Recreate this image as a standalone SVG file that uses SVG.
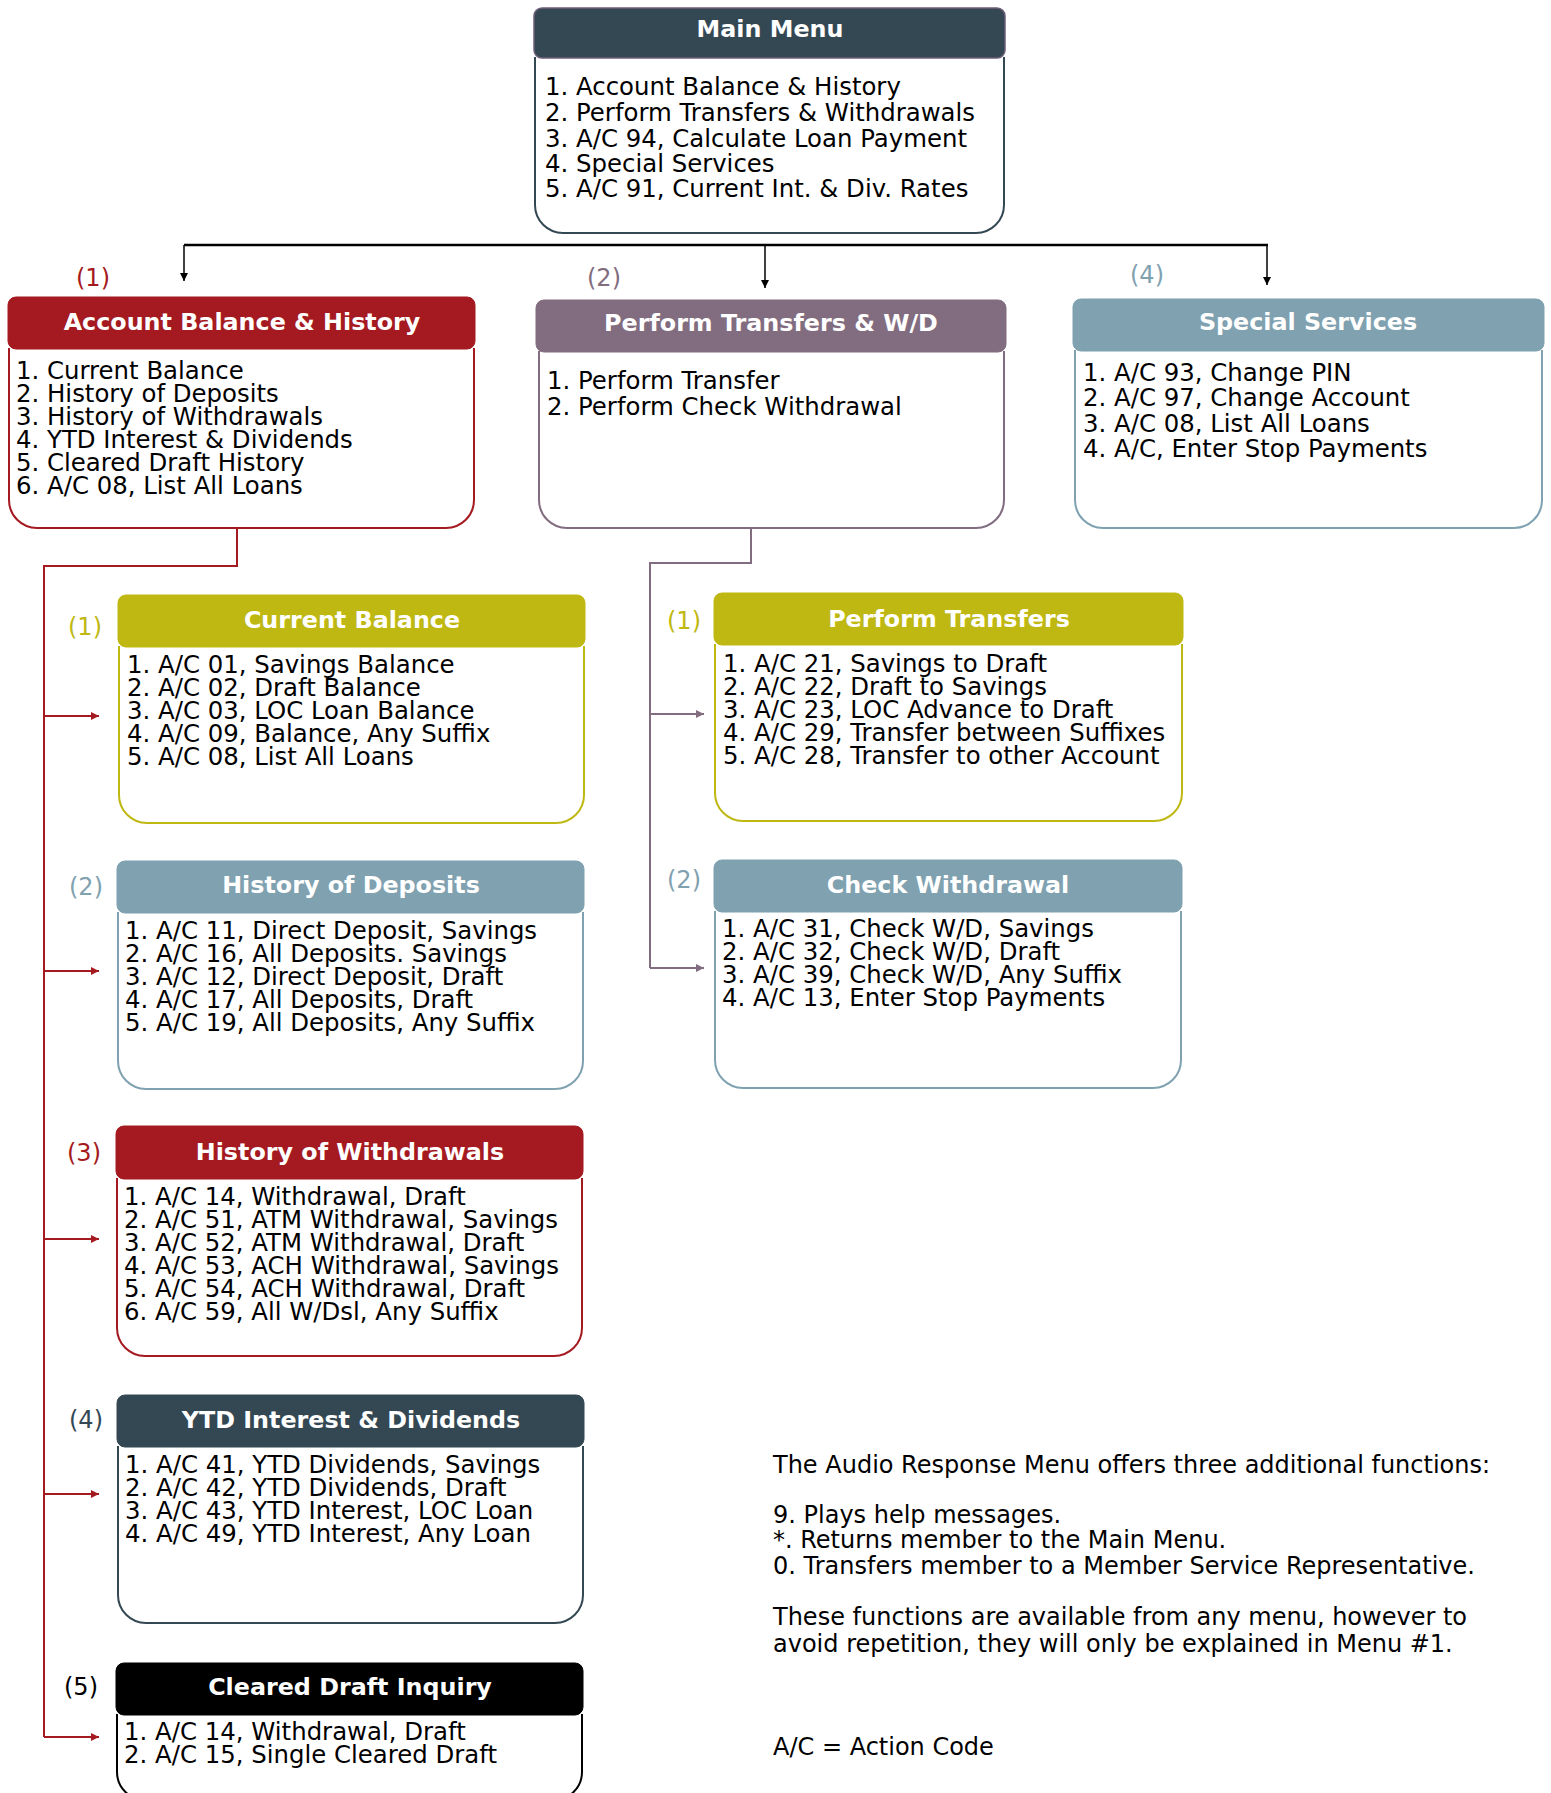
<svg xmlns="http://www.w3.org/2000/svg" width="1551" height="1793" viewBox="0 0 1551 1793">
<defs>
<style>
text{font-family:"DejaVu Sans","Verdana",sans-serif;}
.it{font-size:24.4px;fill:#000;}
.nt{font-size:24px;fill:#000;}
.tt{font-size:23.8px;font-weight:bold;fill:#fff;text-anchor:middle;}
.lb{font-size:24px;}
.body{fill:#fff;stroke-width:2;}
.red{fill:#A51A20;stroke:#A51A20;}
.mauve{fill:#826D80;stroke:#826D80;}
.steel{fill:#7FA1B0;stroke:#7FA1B0;}
.olive{fill:#BFB813;stroke:#BFB813;}
.slate{fill:#344854;stroke:#344854;}
.blk{fill:#000;stroke:#000;}
</style>
<marker id="ab" viewBox="0 0 10 10" refX="10" refY="5" markerWidth="8" markerHeight="8" markerUnits="userSpaceOnUse" orient="auto"><path d="M0,0 L10,5 L0,10 z" fill="#000"/></marker>
<marker id="ar" viewBox="0 0 10 10" refX="10" refY="5" markerWidth="10" markerHeight="8" markerUnits="userSpaceOnUse" orient="auto"><path d="M0,0 L10,5 L0,10 z" fill="#A51A20"/></marker>
<marker id="am" viewBox="0 0 10 10" refX="10" refY="5" markerWidth="10" markerHeight="8" markerUnits="userSpaceOnUse" orient="auto"><path d="M0,0 L10,5 L0,10 z" fill="#826D80"/></marker>
</defs>
<rect width="1551" height="1793" fill="#fff"/>

<g id="connectors">
<path d="M184,245 H1268" stroke="#000" stroke-width="2.5" fill="none"/>
<path d="M184,245 V281" stroke="#000" stroke-width="1.5" fill="none" marker-end="url(#ab)"/>
<path d="M765,245 V288" stroke="#000" stroke-width="1.5" fill="none" marker-end="url(#ab)"/>
<path d="M1267,245 V285" stroke="#000" stroke-width="1.5" fill="none" marker-end="url(#ab)"/>
<path d="M237,528 V566 H44 V1737" stroke="#A51A20" stroke-width="2" fill="none"/>
<path d="M44,716 H99" stroke="#A51A20" stroke-width="2" fill="none" marker-end="url(#ar)"/>
<path d="M44,971 H99" stroke="#A51A20" stroke-width="2" fill="none" marker-end="url(#ar)"/>
<path d="M44,1239 H99" stroke="#A51A20" stroke-width="2" fill="none" marker-end="url(#ar)"/>
<path d="M44,1494 H99" stroke="#A51A20" stroke-width="2" fill="none" marker-end="url(#ar)"/>
<path d="M44,1737 H99" stroke="#A51A20" stroke-width="2" fill="none" marker-end="url(#ar)"/>
<path d="M751,528 V563 H650 V968" stroke="#826D80" stroke-width="2" fill="none"/>
<path d="M650,714 H704" stroke="#826D80" stroke-width="2" fill="none" marker-end="url(#am)"/>
<path d="M650,968 H704" stroke="#826D80" stroke-width="2" fill="none" marker-end="url(#am)"/>
</g>

<g id="main-menu">
<path class="body" stroke="#344854" d="M535,57 V205 A28,28 0 0 0 563,233 H976 A28,28 0 0 0 1004,205 V57"/>
<rect x="534" y="8" width="471" height="50" rx="8" fill="#344854" stroke="#6E5E78" stroke-width="1.5"/>
<text class="tt" x="770" y="37">Main Menu</text>
<text class="it" x="545" y="95">1. Account Balance &amp; History</text>
<text class="it" x="545" y="121">2. Perform Transfers &amp; Withdrawals</text>
<text class="it" x="545" y="147">3. A/C 94, Calculate Loan Payment</text>
<text class="it" x="545" y="172">4. Special Services</text>
<text class="it" x="545" y="197">5. A/C 91, Current Int. &amp; Div. Rates</text>
</g>

<g id="account-balance-history">
<text class="lb" x="76" y="286" fill="#A51A20">(1)</text>
<path class="body" stroke="#A51A20" d="M9,348 V500 A28,28 0 0 0 37,528 H446 A28,28 0 0 0 474,500 V348"/>
<rect class="red" x="8" y="297" width="467" height="52" rx="8"/>
<text class="tt" x="242" y="330">Account Balance &amp; History</text>
<text class="it" x="16" y="379">1. Current Balance</text>
<text class="it" x="16" y="402">2. History of Deposits</text>
<text class="it" x="16" y="425">3. History of Withdrawals</text>
<text class="it" x="16" y="448">4. YTD Interest &amp; Dividends</text>
<text class="it" x="16" y="471">5. Cleared Draft History</text>
<text class="it" x="16" y="494">6. A/C 08, List All Loans</text>
</g>

<g id="perform-transfers-wd">
<text class="lb" x="587" y="286" fill="#826D80">(2)</text>
<path class="body" stroke="#826D80" d="M539,351 V500 A28,28 0 0 0 567,528 H976 A28,28 0 0 0 1004,500 V351"/>
<rect class="mauve" x="536" y="300" width="470" height="52" rx="8"/>
<text class="tt" x="771" y="331">Perform Transfers &amp; W/D</text>
<text class="it" x="547" y="389">1. Perform Transfer</text>
<text class="it" x="547" y="415">2. Perform Check Withdrawal</text>
</g>

<g id="special-services">
<text class="lb" x="1130" y="283" fill="#7FA1B0">(4)</text>
<path class="body" stroke="#7FA1B0" d="M1075,350 V500 A28,28 0 0 0 1103,528 H1514 A28,28 0 0 0 1542,500 V350"/>
<rect class="steel" x="1073" y="299" width="471" height="52" rx="8"/>
<text class="tt" x="1308" y="330">Special Services</text>
<text class="it" x="1083" y="381">1. A/C 93, Change PIN</text>
<text class="it" x="1083" y="406">2. A/C 97, Change Account</text>
<text class="it" x="1083" y="432">3. A/C 08, List All Loans</text>
<text class="it" x="1083" y="457">4. A/C, Enter Stop Payments</text>
</g>

<g id="current-balance">
<text class="lb" x="68" y="635" fill="#BFB813">(1)</text>
<path class="body" stroke="#BFB813" d="M119,646 V795 A28,28 0 0 0 147,823 H556 A28,28 0 0 0 584,795 V646"/>
<rect class="olive" x="118" y="595" width="467" height="52" rx="8"/>
<text class="tt" x="352" y="628">Current Balance</text>
<text class="it" x="127" y="673">1. A/C 01, Savings Balance</text>
<text class="it" x="127" y="696">2. A/C 02, Draft Balance</text>
<text class="it" x="127" y="719">3. A/C 03, LOC Loan Balance</text>
<text class="it" x="127" y="742">4. A/C 09, Balance, Any Suffix</text>
<text class="it" x="127" y="765">5. A/C 08, List All Loans</text>
</g>

<g id="history-of-deposits">
<text class="lb" x="69" y="895" fill="#7FA1B0">(2)</text>
<path class="body" stroke="#7FA1B0" d="M118,912 V1061 A28,28 0 0 0 146,1089 H555 A28,28 0 0 0 583,1061 V912"/>
<rect class="steel" x="117" y="861" width="467" height="52" rx="8"/>
<text class="tt" x="351" y="893">History of Deposits</text>
<text class="it" x="125" y="939">1. A/C 11, Direct Deposit, Savings</text>
<text class="it" x="125" y="962">2. A/C 16, All Deposits. Savings</text>
<text class="it" x="125" y="985">3. A/C 12, Direct Deposit, Draft</text>
<text class="it" x="125" y="1008">4. A/C 17, All Deposits, Draft</text>
<text class="it" x="125" y="1031">5. A/C 19, All Deposits, Any Suffix</text>
</g>

<g id="history-of-withdrawals">
<text class="lb" x="67" y="1161" fill="#A51A20">(3)</text>
<path class="body" stroke="#A51A20" d="M117,1178 V1328 A28,28 0 0 0 145,1356 H554 A28,28 0 0 0 582,1328 V1178"/>
<rect class="red" x="116" y="1126" width="467" height="53" rx="8"/>
<text class="tt" x="350" y="1160">History of Withdrawals</text>
<text class="it" x="124" y="1205">1. A/C 14, Withdrawal, Draft</text>
<text class="it" x="124" y="1228">2. A/C 51, ATM Withdrawal, Savings</text>
<text class="it" x="124" y="1251">3. A/C 52, ATM Withdrawal, Draft</text>
<text class="it" x="124" y="1274">4. A/C 53, ACH Withdrawal, Savings</text>
<text class="it" x="124" y="1297">5. A/C 54, ACH Withdrawal, Draft</text>
<text class="it" x="124" y="1320">6. A/C 59, All W/Dsl, Any Suffix</text>
</g>

<g id="ytd-interest-dividends">
<text class="lb" x="69" y="1428" fill="#344854">(4)</text>
<path class="body" stroke="#344854" d="M118,1446 V1595 A28,28 0 0 0 146,1623 H555 A28,28 0 0 0 583,1595 V1446"/>
<rect class="slate" x="117" y="1395" width="467" height="52" rx="8"/>
<text class="tt" x="351" y="1428">YTD Interest &amp; Dividends</text>
<text class="it" x="125" y="1473">1. A/C 41, YTD Dividends, Savings</text>
<text class="it" x="125" y="1496">2. A/C 42, YTD Dividends, Draft</text>
<text class="it" x="125" y="1519">3. A/C 43, YTD Interest, LOC Loan</text>
<text class="it" x="125" y="1542">4. A/C 49, YTD Interest, Any Loan</text>
</g>

<g id="cleared-draft-inquiry">
<text class="lb" x="64" y="1695" fill="#000">(5)</text>
<path class="body" stroke="#000" d="M117,1714 V1772 A28,28 0 0 0 145,1800 H554 A28,28 0 0 0 582,1772 V1714"/>
<rect class="blk" x="116" y="1663" width="467" height="52" rx="8"/>
<text class="tt" x="350" y="1695">Cleared Draft Inquiry</text>
<text class="it" x="124" y="1740">1. A/C 14, Withdrawal, Draft</text>
<text class="it" x="124" y="1763">2. A/C 15, Single Cleared Draft</text>
</g>

<g id="perform-transfers">
<text class="lb" x="667" y="629" fill="#BFB813">(1)</text>
<path class="body" stroke="#BFB813" d="M715,644 V793 A28,28 0 0 0 743,821 H1154 A28,28 0 0 0 1182,793 V644"/>
<rect class="olive" x="714" y="593" width="469" height="52" rx="8"/>
<text class="tt" x="949" y="627">Perform Transfers</text>
<text class="it" x="723" y="672">1. A/C 21, Savings to Draft</text>
<text class="it" x="723" y="695">2. A/C 22, Draft to Savings</text>
<text class="it" x="723" y="718">3. A/C 23, LOC Advance to Draft</text>
<text class="it" x="723" y="741">4. A/C 29, Transfer between Suffixes</text>
<text class="it" x="723" y="764">5. A/C 28, Transfer to other Account</text>
</g>

<g id="check-withdrawal">
<text class="lb" x="667" y="888" fill="#7FA1B0">(2)</text>
<path class="body" stroke="#7FA1B0" d="M715,911 V1060 A28,28 0 0 0 743,1088 H1153 A28,28 0 0 0 1181,1060 V911"/>
<rect class="steel" x="714" y="860" width="468" height="52" rx="8"/>
<text class="tt" x="948" y="893">Check Withdrawal</text>
<text class="it" x="722" y="937">1. A/C 31, Check W/D, Savings</text>
<text class="it" x="722" y="960">2. A/C 32, Check W/D, Draft</text>
<text class="it" x="722" y="983">3. A/C 39, Check W/D, Any Suffix</text>
<text class="it" x="722" y="1006">4. A/C 13, Enter Stop Payments</text>
</g>

<g id="notes">
<text class="nt" x="773" y="1473">The Audio Response Menu offers three additional functions:</text>
<text class="nt" x="773" y="1523">9. Plays help messages.</text>
<text class="nt" x="773" y="1548">*. Returns member to the Main Menu.</text>
<text class="nt" x="773" y="1574">0. Transfers member to a Member Service Representative.</text>
<text class="nt" x="773" y="1625">These functions are available from any menu, however to</text>
<text class="nt" x="773" y="1652">avoid repetition, they will only be explained in Menu #1.</text>
<text class="nt" x="773" y="1755">A/C = Action Code</text>
</g>
</svg>
